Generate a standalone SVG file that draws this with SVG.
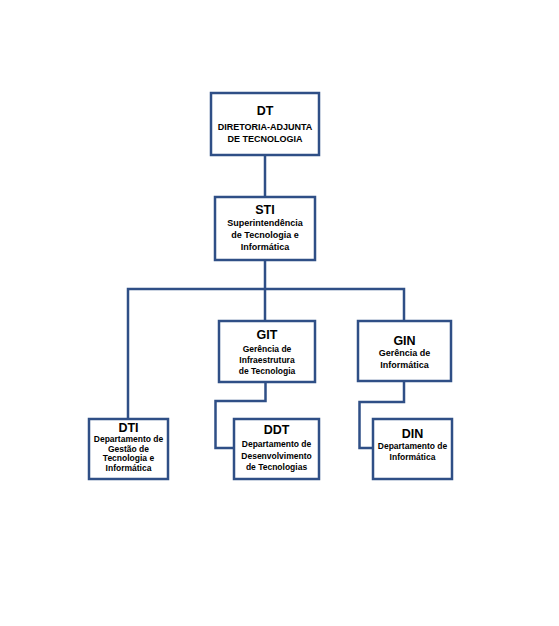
<svg xmlns="http://www.w3.org/2000/svg" width="559" height="626" viewBox="0 0 559 626">
<style>
.box{fill:#ffffff;stroke:#2F4F86;stroke-width:2.5}
.ln{fill:none;stroke:#2F4F86;stroke-width:2.5}
text{font-family:"Liberation Sans",Arial,sans-serif;font-weight:bold;fill:#000;text-anchor:middle}
.t{font-size:12.5px}
.s{font-size:8.5px}
</style>
<rect width="559" height="626" fill="#ffffff"/>
<g id="connectors">
<path class="ln" d="M265,155 V197"/>
<path class="ln" d="M265,260 V289 M128,419 V289 H404 V321 M265,289 V321"/>
<path class="ln" d="M265.5,382 V401 H215.5 V448 H234"/>
<path class="ln" d="M404,381 V402 H359.5 V448 H373"/>
</g>
<g id="DT">
<rect class="box" x="211" y="93" width="108" height="62"/>
<text class="t" x="265" y="115">DT</text>
<text class="s" x="265" y="130" style="font-size:9px">DIRETORIA-ADJUNTA</text>
<text class="s" x="265" y="142" style="font-size:9px">DE TECNOLOGIA</text>
</g>
<g id="STI">
<rect class="box" x="215" y="197" width="100" height="63"/>
<text class="t" x="265" y="214">STI</text>
<text class="s" x="265" y="226" style="font-size:9px">Superintendência</text>
<text class="s" x="265" y="238" style="font-size:9px">de Tecnologia e</text>
<text class="s" x="265" y="250" style="font-size:9px">Informática</text>
</g>
<g id="GIT">
<rect class="box" x="219" y="321" width="96" height="61"/>
<text class="t" x="267" y="339">GIT</text>
<text class="s" x="267" y="352">Gerência de</text>
<text class="s" x="267" y="363">Infraestrutura</text>
<text class="s" x="267" y="374">de Tecnologia</text>
</g>
<g id="GIN">
<rect class="box" x="358" y="321" width="93" height="60"/>
<text class="t" x="404.5" y="345">GIN</text>
<text class="s" x="404.5" y="356" style="font-size:9px">Gerência de</text>
<text class="s" x="404.5" y="368" style="font-size:9px">Informática</text>
</g>
<g id="DTI">
<rect class="box" x="89" y="419" width="79" height="60"/>
<text class="t" x="128.5" y="432">DTI</text>
<text class="s" x="128.5" y="442">Departamento de</text>
<text class="s" x="128.5" y="451.5">Gestão de</text>
<text class="s" x="128.5" y="461">Tecnologia e</text>
<text class="s" x="128.5" y="470.5">Informática</text>
</g>
<g id="DDT">
<rect class="box" x="234" y="419" width="85" height="60"/>
<text class="t" x="276.5" y="434">DDT</text>
<text class="s" x="276.5" y="447">Departamento de</text>
<text class="s" x="276.5" y="458.5">Desenvolvimento</text>
<text class="s" x="276.5" y="470">de Tecnologias</text>
</g>
<g id="DIN">
<rect class="box" x="373" y="419" width="79" height="60"/>
<text class="t" x="412.5" y="438">DIN</text>
<text class="s" x="412.5" y="449">Departamento de</text>
<text class="s" x="412.5" y="460">Informática</text>
</g>
</svg>
